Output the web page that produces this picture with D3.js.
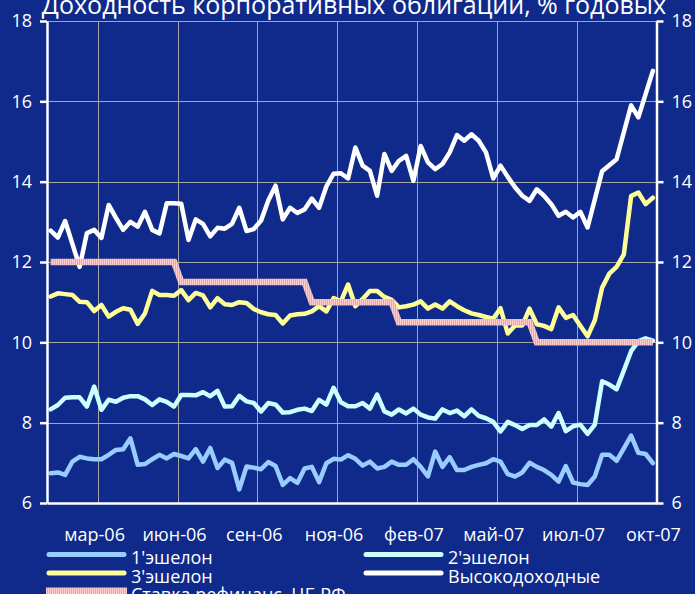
<!DOCTYPE html>
<html><head><meta charset="utf-8">
<script src="https://cdn.jsdelivr.net/npm/d3@7"></script>
<style>
html,body{margin:0;padding:0;background:#0f2a8a;}
svg{display:block;font-family:"Open Sans","Noto Sans",sans-serif;}
</style></head>
<body><svg id="c" width="695" height="594"></svg>
<script>
// ---- data ----
const title = "Доходность корпоративных облигаций, % годовых";
const tickLabels = ["мар-06","июн-06","сен-06","ноя-06","фев-07","май-07","июл-07","окт-07"];
const tickAt = [6,17,28,39,50,61,72,83];           // category index of each label
const yTicks = [6,8,10,12,14,16,18];
const seriesNames = ["1'эшелон","2'эшелон","3'эшелон","Высокодоходные","Ставка рефинанс. ЦБ РФ"];
const echelon1 = [6.74,6.76,6.70,7.03,7.15,7.11,7.09,7.09,7.20,7.32,7.34,7.61,6.95,6.97,7.09,7.20,7.11,7.22,7.17,7.11,
  7.34,7.03,7.37,6.87,7.08,7.00,6.34,6.91,6.88,6.84,7.02,6.92,6.45,6.62,6.50,6.86,6.90,6.52,6.99,7.10,
  7.08,7.19,7.10,6.93,7.03,6.86,6.90,7.03,6.95,6.95,7.09,6.90,6.66,7.28,6.90,7.14,6.82,6.82,6.90,6.95,
  6.99,7.09,7.03,6.72,6.66,6.76,7.00,6.90,6.82,6.70,6.53,6.92,6.51,6.47,6.45,6.66,7.20,7.20,7.05,7.36,
  7.68,7.25,7.22,6.99];
const echelon2 = [8.33,8.44,8.62,8.63,8.63,8.40,8.90,8.32,8.57,8.52,8.62,8.66,8.66,8.58,8.44,8.58,8.52,8.40,8.69,8.69,
  8.68,8.76,8.66,8.79,8.40,8.41,8.67,8.53,8.49,8.28,8.49,8.45,8.25,8.26,8.32,8.35,8.29,8.57,8.45,8.87,
  8.51,8.41,8.41,8.49,8.35,8.70,8.28,8.20,8.33,8.23,8.35,8.20,8.13,8.10,8.33,8.24,8.30,8.16,8.33,8.17,
  8.11,8.02,7.78,8.02,7.94,7.84,7.94,7.94,8.08,7.90,8.24,7.79,7.91,7.95,7.72,7.95,9.03,8.95,8.83,9.30,
  9.78,10.03,10.10,10.04];
const echelon3 = [11.14,11.22,11.20,11.18,11.01,11.00,10.78,10.93,10.64,10.76,10.85,10.81,10.46,10.72,11.28,11.18,11.18,11.16,11.30,11.05,
  11.23,11.17,10.87,11.10,10.95,10.93,11.00,10.98,10.83,10.75,10.70,10.68,10.47,10.67,10.70,10.71,10.77,10.90,10.77,11.10,
  11.02,11.44,10.90,11.08,11.28,11.28,11.13,11.06,10.87,10.90,10.94,11.02,10.84,10.94,10.84,11.02,10.90,10.80,10.72,10.68,
  10.63,10.59,10.85,10.22,10.42,10.42,10.84,10.45,10.41,10.33,10.87,10.61,10.68,10.41,10.15,10.55,11.36,11.71,11.88,12.19,
  13.64,13.73,13.44,13.60];
const highYield = [12.78,12.61,13.02,12.45,11.88,12.72,12.80,12.60,13.42,13.10,12.80,13.00,12.88,13.25,12.80,12.71,13.46,13.46,13.45,12.55,
  13.06,12.95,12.64,12.85,12.83,12.95,13.35,12.77,12.82,13.03,13.53,13.90,13.06,13.35,13.22,13.31,13.58,13.35,13.88,14.20,
  14.21,14.08,14.85,14.40,14.27,13.65,14.69,14.27,14.52,14.64,14.02,14.89,14.48,14.31,14.44,14.73,15.16,15.02,15.18,15.02,
  14.73,14.08,14.40,14.12,13.86,13.65,13.52,13.81,13.65,13.44,13.15,13.25,13.11,13.25,12.86,13.56,14.26,14.41,14.56,15.23,
  15.90,15.60,16.18,16.76];
const refiRate = [12,12,12,12,12,12,12,12,12,12,12,12,12,12,12,12,12,12,11.5,11.5,
  11.5,11.5,11.5,11.5,11.5,11.5,11.5,11.5,11.5,11.5,11.5,11.5,11.5,11.5,11.5,11.5,11,11,11,11,
  11,11,11,11,11,11,11,11,10.5,10.5,10.5,10.5,10.5,10.5,10.5,10.5,10.5,10.5,10.5,10.5,
  10.5,10.5,10.5,10.5,10.5,10.5,10.5,10,10,10,10,10,10,10,10,10,10,10,10,10,
  10,10,10,10];

// ---- chart ----
const svg = d3.select("#c");
const bg = "#0f2a8a";
svg.append("rect").attr("width",695).attr("height",594).attr("fill",bg);

const defs = svg.append("defs");
const pat = defs.append("pattern").attr("id","refi").attr("patternUnits","userSpaceOnUse")
  .attr("width",2).attr("height",2);
pat.append("rect").attr("width",2).attr("height",2).attr("fill","#ff9c9c");
pat.append("rect").attr("width",1).attr("height",2).attr("fill","#ffcfcf");

const x = d3.scaleLinear().domain([-0.5, echelon1.length - 0.5]).range([47, 656.5]);
const y = d3.scaleLinear().domain([6, 18]).range([503, 21]);
const [x0, x1] = x.range();

// grid
const grid = svg.append("g").attr("stroke","#a6a6a6").attr("stroke-width",1);
grid.selectAll("line.h").data(yTicks.slice(1)).join("line")
  .attr("x1",x0).attr("x2",x1).attr("y1",d=>Math.round(y(d))+0.5).attr("y2",d=>Math.round(y(d))+0.5);
grid.selectAll("line.v").data(tickAt.slice(0,-1)).join("line")
  .attr("y1",y(18)).attr("y2",y(6)).attr("x1",d=>Math.round(x(d+0.5))+0.5).attr("x2",d=>Math.round(x(d+0.5))+0.5);

// series
const line = d3.line().x((d,i)=>x(i)).y(d=>y(d));
const series = [
  {name:seriesNames[0], data:echelon1, color:"#99ccff"},
  {name:seriesNames[1], data:echelon2, color:"#ccffff"},
  {name:seriesNames[2], data:echelon3, color:"#ffff99"},
  {name:seriesNames[3], data:highYield, color:"#ffffff"},
];
svg.append("g").selectAll("path").data(series).join("path")
  .attr("d",d=>line(d.data)).attr("fill","none").attr("stroke",d=>d.color)
  .attr("stroke-width",4.5).attr("stroke-linejoin","round").attr("stroke-linecap","round");
svg.append("path").attr("d",line(refiRate)).attr("fill","none").attr("stroke","url(#refi)")
  .attr("stroke-width",6.5).attr("stroke-linejoin","miter");

// axes
const fs = 18;
function styleAxis(g){
  g.select(".domain").attr("stroke","#fff").attr("stroke-width",2.5);
  g.selectAll(".tick line").attr("stroke","#fff").attr("stroke-width",2.5);
  g.selectAll(".tick text").attr("fill","#fff").attr("font-size",fs).attr("font-family","Open Sans");
}
svg.append("g").attr("transform",`translate(${x0},0)`)
  .call(d3.axisLeft(y).tickValues(yTicks).tickSize(7).tickSizeOuter(0).tickPadding(8).tickFormat(d3.format("d")))
  .call(styleAxis);
svg.append("g").attr("transform",`translate(${x1},0)`)
  .call(d3.axisRight(y).tickValues(yTicks).tickSize(7).tickSizeOuter(0).tickPadding(8).tickFormat(d3.format("d")))
  .call(styleAxis);
svg.append("g").attr("transform",`translate(0,${y(6)})`)
  .call(d3.axisBottom(x).tickValues(tickAt).tickSize(0).tickSizeOuter(0).tickPadding(25)
    .tickFormat((d,i)=>tickLabels[i]))
  .call(styleAxis);

// title
svg.append("text").attr("x",354).attr("y",14).attr("text-anchor","middle")
  .attr("fill","#fff").attr("font-size",25).text(title);

// legend
const legendItems = [
  {name:seriesNames[0], color:"#99ccff", col:0, row:0},
  {name:seriesNames[1], color:"#ccffff", col:1, row:0},
  {name:seriesNames[2], color:"#ffff99", col:0, row:1},
  {name:seriesNames[3], color:"#ffffff", col:1, row:1},
  {name:seriesNames[4], color:"url(#refi)", col:0, row:2, band:true},
];
const colX = [47, 364], rowY = [554.5, 573, 591.5];
const lg = svg.append("g");
legendItems.forEach(it=>{
  const gx = colX[it.col], gy = rowY[it.row];
  if(it.band){
    lg.append("rect").attr("x",gx-1).attr("y",gy-4).attr("width",81).attr("height",8).attr("fill",it.color);
  } else {
    lg.append("line").attr("x1",gx+2).attr("x2",gx+77).attr("y1",gy).attr("y2",gy)
      .attr("stroke",it.color).attr("stroke-width",5).attr("stroke-linecap","round");
  }
  lg.append("text").attr("x",gx+84).attr("y",gy+9.5).attr("fill","#fff").attr("font-size",fs).text(it.name);
});
</script></body></html>
